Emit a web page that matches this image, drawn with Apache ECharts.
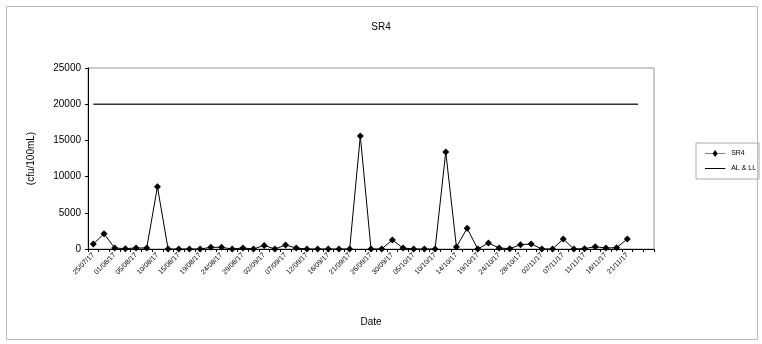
<!DOCTYPE html>
<html>
<head>
<meta charset="utf-8">
<script src="https://cdn.jsdelivr.net/npm/echarts@6/dist/echarts.min.js"></script>
<style>html,body{margin:0;padding:0;background:#fff}#c{width:762px;height:344px}</style>
</head>
<body>
<div id="c"></div>
<script>
const categories = ['25/07/17','27/07/17','01/08/17','03/08/17','05/08/17','08/08/17','10/08/17','12/08/17','15/08/17','17/08/17',
 '19/08/17','22/08/17','24/08/17','26/08/17','29/08/17','31/08/17','02/09/17','05/09/17','07/09/17','09/09/17',
 '12/09/17','14/09/17','16/09/17','19/09/17','21/09/17','24/09/17','26/09/17','28/09/17','30/09/17','03/10/17',
 '05/10/17','07/10/17','10/10/17','12/10/17','14/10/17','17/10/17','19/10/17','21/10/17','24/10/17','26/10/17',
 '28/10/17','31/10/17','02/11/17','05/11/17','07/11/17','09/11/17','11/11/17','14/11/17','16/11/17','19/11/17',
 '21/11/17','',''];
const sr4 = [700,2100,140,50,140,140,8600,0,0,0,
 0,230,230,0,140,0,500,0,550,140,
 0,0,0,0,0,15600,0,0,1240,140,
 0,0,0,13400,280,2850,0,830,140,50,
 600,690,0,0,1380,0,50,320,140,180,
 1380];
const alLimit = 20000;
const alLL = categories.map((c, i) => i <= 51 ? alLimit : null);
const yTicks = {min: 0, max: 25000, interval: 5000};

const chart = echarts.init(document.getElementById('c'), null, {renderer: 'canvas'});
const font = 'Liberation Sans, Arial, sans-serif';
const iconSR4 = 'path://M0,3.4H22V4.2H0Z M11,0L13.8,3.8L11,7.6L8.2,3.8Z';
const iconAL = 'path://M0,3.2H22V4.4H0Z M0,0H0.01V0.01H0Z M0,7.6H0.01V7.59H0Z';
chart.setOption({
  animation: false,
  backgroundColor: '#fff',
  textStyle: {fontFamily: font},
  title: {text: 'SR4', left: 'center', top: 17, textStyle: {fontSize: 10, fontWeight: 'normal', color: '#000', fontFamily: font}},
  graphic: [{type: 'rect', shape: {x: 6.5, y: 6.5, width: 751, height: 333}, style: {fill: null, stroke: '#bbb', lineWidth: 1}, z: -1, silent: true}],
  legend: {
    orient: 'vertical', left: 696, top: 143, itemWidth: 22, itemHeight: 7, itemGap: 8,
    padding: [7, 3, 7, 9], borderColor: '#aaa', borderWidth: 1,
    textStyle: {fontSize: 7, color: '#000', fontFamily: font},
    data: [{name: 'SR4', icon: iconSR4}, {name: 'AL & LL', icon: iconAL}]
  },
  grid: {left: 88, top: 68, right: 108, bottom: 95, show: true, borderColor: '#999', borderWidth: 1, containLabel: false},
  xAxis: {
    type: 'category', data: categories, boundaryGap: true,
    name: 'Date', nameLocation: 'middle', nameGap: 68,
    nameTextStyle: {fontSize: 10, color: '#000', fontFamily: font},
    axisLine: {lineStyle: {color: '#000', width: 1}},
    axisTick: {show: true, interval: 0, length: 3, lineStyle: {color: '#000'}},
    axisLabel: {interval: 1, rotate: 45, fontSize: 7, color: '#000', margin: 5, fontFamily: font},
    splitLine: {show: false}
  },
  yAxis: {
    type: 'value', min: yTicks.min, max: yTicks.max, interval: yTicks.interval,
    name: '(cfu/100mL)', nameLocation: 'middle', nameGap: 52,
    nameTextStyle: {fontSize: 10, color: '#000', fontFamily: font},
    axisLine: {show: true, lineStyle: {color: '#000', width: 1}},
    axisTick: {show: true, length: 3, lineStyle: {color: '#000'}},
    axisLabel: {fontSize: 10, color: '#000', margin: 7, fontFamily: font, formatter: v => String(v)},
    splitLine: {show: false}
  },
  series: [
    {name: 'SR4', type: 'line', data: sr4, symbol: 'diamond', symbolSize: 7, showAllSymbol: true,
     lineStyle: {color: '#000', width: 1}, itemStyle: {color: '#000'}, z: 3},
    {name: 'AL & LL', type: 'line', data: alLL, symbol: 'none', connectNulls: false,
     lineStyle: {color: '#333', width: 1.5}, itemStyle: {color: '#000'}, z: 2}
  ]
});
</script>
</body>
</html>
